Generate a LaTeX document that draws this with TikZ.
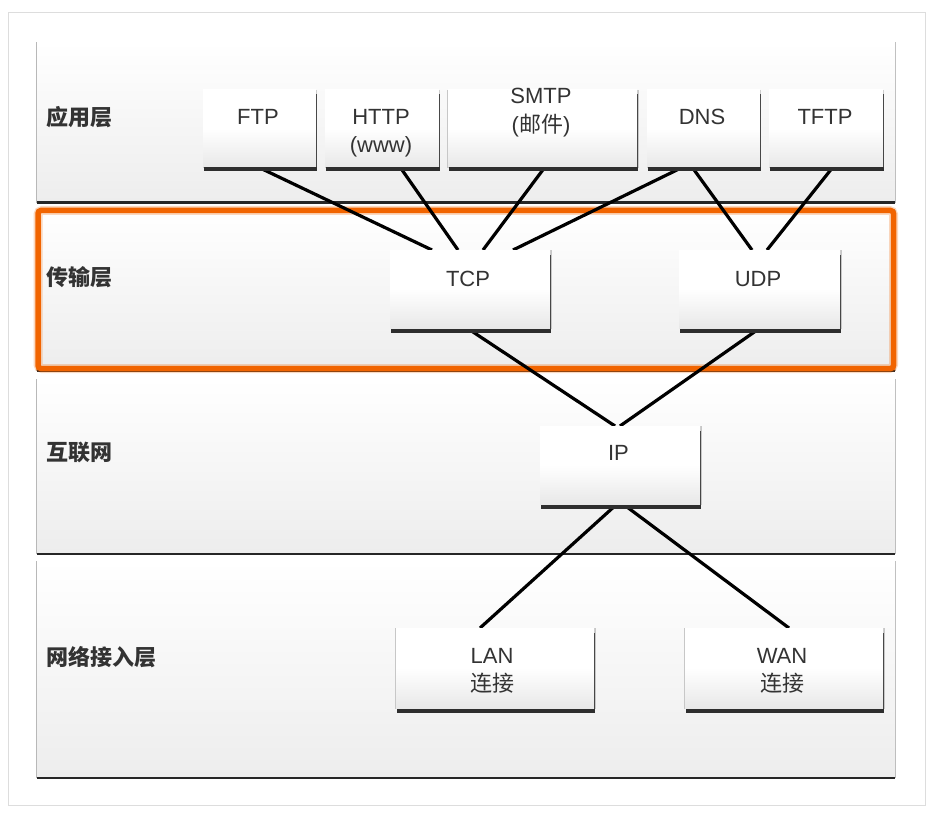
\documentclass[tikz,border=0pt]{standalone}
\usepackage{fontspec}
\setmainfont{Liberation Sans}
\newfontfamily\cjk{Noto Sans CJK SC}
\usetikzlibrary{shadows}
\definecolor{txt}{RGB}{51,51,51}
\definecolor{orng}{RGB}{241,100,0}
\definecolor{framec}{RGB}{221,221,221}
\pgfdeclarelayer{bg}
\pgfdeclarelayer{lines}
\pgfsetlayers{bg,lines,main}
\newcommand{\layerband}[2]{%
  \fill[black!28] (35.8,#1) rectangle (896.2,#2+2);
  \fill[black!85] (37,#2-0.5) rectangle (895,#2+3);
  \shade[top color=white, bottom color=black!7] (37,#1) rectangle (895,#2);
}
\tikzset{
  box/.style={rectangle, inner sep=0pt, outer sep=0pt,
    top color=white, bottom color=black!9, middle color=white,
    general shadow={fill=black!22, shadow xshift=0.6pt, shadow yshift=-0.6pt, shadow scale=1.012},
    general shadow={fill=black!82, shadow xshift=0.5pt, shadow yshift=-4.5pt}},
  conn/.style={line width=3.2pt, black},
  tx/.style={font=\fontsize{22}{26}\selectfont, text=txt, inner sep=0pt, anchor=base},
  layerlabel/.style={font=\cjk\bfseries\fontsize{22}{26}\selectfont, text=txt, inner sep=0pt, anchor=west}
}
\begin{document}
\begin{tikzpicture}[x=1pt,y=-1pt]
\useasboundingbox (0,0) rectangle (936,818);
\begin{pgfonlayer}{bg}
  \fill[white] (0,0) rectangle (936,818);
  \draw[framec, line width=1pt] (8.5,12.5) rectangle (925.5,805.5);
  \layerband{42}{201}
  \layerband{210}{369}
  \layerband{379}{552}
  \layerband{561}{776}
  \draw[orng, line width=9pt, opacity=0.25, rounded corners=4pt] (38,210.5) rectangle (893.5,368.5);
  \draw[orng, line width=5.5pt, rounded corners=3pt] (38,210.5) rectangle (893.5,368.5);
\end{pgfonlayer}

% layer labels
\node[layerlabel] (l1) at (46,117.5) {应用层};
\node[layerlabel] (l2) at (46,277) {传输层};
\node[layerlabel] (l3) at (46,452) {互联网};
\node[layerlabel] (l4) at (46,657) {网络接入层};

% boxes
\node[box, minimum width=113pt, minimum height=77pt] (ftp) at (259.5,128.5) {};
\node[box, minimum width=114pt, minimum height=77pt] (http) at (382,128.5) {};
\node[box, minimum width=189pt, minimum height=77pt] (smtp) at (542.5,128.5) {};
\node[box, minimum width=113pt, minimum height=77pt] (dns) at (703.5,128.5) {};
\node[box, minimum width=114pt, minimum height=77pt] (tftp) at (826,128.5) {};
\node[box, minimum width=160pt, minimum height=78pt] (tcp) at (470,289) {};
\node[box, minimum width=161pt, minimum height=78pt] (udp) at (759.5,289) {};
\node[box, minimum width=160pt, minimum height=78pt] (ip) at (620,465) {};
\node[box, minimum width=198pt, minimum height=80pt] (lan) at (495,668) {};
\node[box, minimum width=198pt, minimum height=80pt] (wan) at (784,668) {};

% box texts
\node[tx] (ftpa) at (258,125) {FTP};
\node[tx] (httpa) at (381,125) {HTTP};
\node[tx] (httpb) at (381,153) {(www)};
\node[tx] (smtpa) at (541,104) {SMTP};
\node[tx] (smtpb) at (541,133) {({\cjk 邮件})};
\node[tx] (dnsa) at (702,125) {DNS};
\node[tx] (tftpa) at (825,125) {TFTP};
\node[tx] (tcpa) at (468,286) {TCP};
\node[tx] (udpa) at (758,286) {UDP};
\node[tx] (ipa) at (618.5,460) {IP};
\node[tx] (lana) at (492,663) {LAN};
\node[tx] (lanb) at (492,691) {\cjk 连接};
\node[tx] (wana) at (782,663) {WAN};
\node[tx] (wanb) at (782,691) {\cjk 连接};

% connectors
\begin{pgfonlayer}{lines}
  \draw[conn] ([xshift=-1.5pt]ftp.south) -- ([xshift=-38pt]tcp.north);
  \draw[conn] ([xshift=18pt]http.south) -- ([xshift=-12pt]tcp.north);
  \draw[conn] ([xshift=2.5pt]smtp.south) -- ([xshift=13pt]tcp.north);
  \draw[conn] ([xshift=-20.5pt]dns.south) -- ([xshift=43pt]tcp.north);
  \draw[conn] ([xshift=-11.5pt]dns.south) -- ([xshift=-7.5pt]udp.north);
  \draw[conn] ([xshift=7pt]tftp.south) -- ([xshift=7.5pt]udp.north);
  \draw[conn] ([xshift=-3pt]tcp.south) -- ([xshift=-5pt]ip.north);
  \draw[conn] ([xshift=0.5pt]udp.south) -- ([xshift=0pt]ip.north);
  \draw[conn] ([xshift=-3pt]ip.south) -- ([xshift=-15pt]lan.north);
  \draw[conn] ([xshift=3pt]ip.south) -- ([xshift=5pt]wan.north);
\end{pgfonlayer}
\end{tikzpicture}
\end{document}
